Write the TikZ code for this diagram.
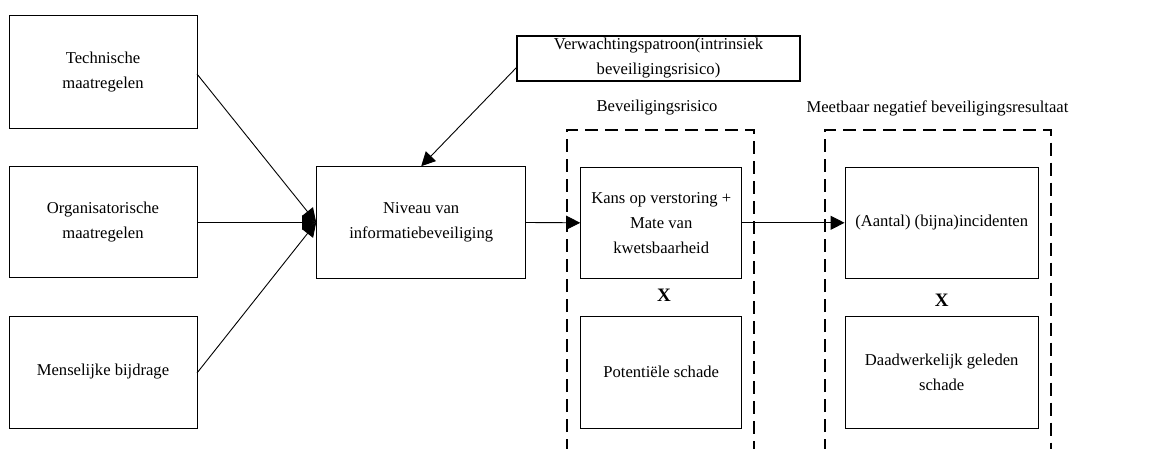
\documentclass[tikz,border=0pt]{standalone}
\usepackage{fontspec}
\setmainfont{Liberation Serif}
\usetikzlibrary{arrows.meta}
\begin{document}
\begin{tikzpicture}[x=1pt,y=-1pt,
  box/.style={draw,line width=1pt,align=center,inner sep=2pt,font=\fontsize{16.6}{25}\selectfont},
  lbl/.style={align=center,inner sep=0pt,font=\fontsize{16.6}{25}\selectfont},
  arr/.style={line width=0.9pt,-{Triangle[length=14pt,width=14pt]}},
  dbox/.style={line width=1.8pt,dash pattern=on 13pt off 7pt}]
\useasboundingbox (0,0) rectangle (1157,449);
\node[box,minimum width=188pt,minimum height=113pt] (tm) at (103,72.5) {Technische\\maatregelen};
\node[box,minimum width=188pt,minimum height=111pt] (om) at (103,222.5) {Organisatorische\\maatregelen};
\node[box,minimum width=188pt,minimum height=112pt] (mb) at (103,372) {Menselijke bijdrage};
\node[box,minimum width=209pt,minimum height=111.6pt] (ni) at (421.2,222.5) {Niveau van\\informatiebeveiliging};
\node[box,line width=2pt,inner sep=0pt,minimum width=283pt,minimum height=45pt] (vp) at (658.5,58.5) {Verwachtingspatroon(intrinsiek\\beveiligingsrisico)};
\node[box,minimum width=161pt,minimum height=111pt] (ka) at (661.2,222.8) {Kans op verstoring +\\Mate van\\kwetsbaarheid};
\node[box,minimum width=161pt,minimum height=112pt] (ps) at (661.2,372.2) {Potentiële schade};
\node[box,minimum width=193.3pt,minimum height=111pt] (ai) at (941.7,222.8) {(Aantal) (bijna)incidenten};
\node[box,minimum width=193.3pt,minimum height=112pt] (dg) at (941.7,372.2) {Daadwerkelijk geleden\\schade};
\node[lbl] (br) at (657,108) {Beveiligingsrisico};
\node[lbl] (mn) at (937.5,108) {Meetbaar negatief beveiligingsresultaat};
\node[lbl,font=\fontsize{19}{25}\selectfont\bfseries] (x1) at (664,295) {X};
\node[lbl,font=\fontsize{19}{25}\selectfont\bfseries] (x2) at (941.7,300) {X};
\coordinate (d1a) at (567.3,452);
\coordinate (d1b) at (567.3,130);
\coordinate (d1c) at (754,130);
\coordinate (d1d) at (754,452);
\coordinate (d2a) at (825.3,452);
\coordinate (d2b) at (825.3,130);
\coordinate (d2c) at (1050.7,130);
\coordinate (d2d) at (1050.7,452);
\draw[dbox] (d1a) -- (d1b) -- (d1c) -- (d1d);
\draw[dbox] (d2a) -- (d2b) -- (d2c) -- (d2d);
\coordinate (t1) at (197,74);
\coordinate (t3) at (197,373);
\coordinate (vs) at (516.7,67.3);
\draw[arr] (t1) -- (ni.west);
\draw[arr] (om.east) -- (ni.west);
\draw[arr] (t3) -- (ni.west);
\draw[arr] (vs) -- (ni.north);
\draw[arr] (ni.east) -- (ka.west);
\draw[arr] (ka.east) -- (ai.west);
\end{tikzpicture}
\end{document}
